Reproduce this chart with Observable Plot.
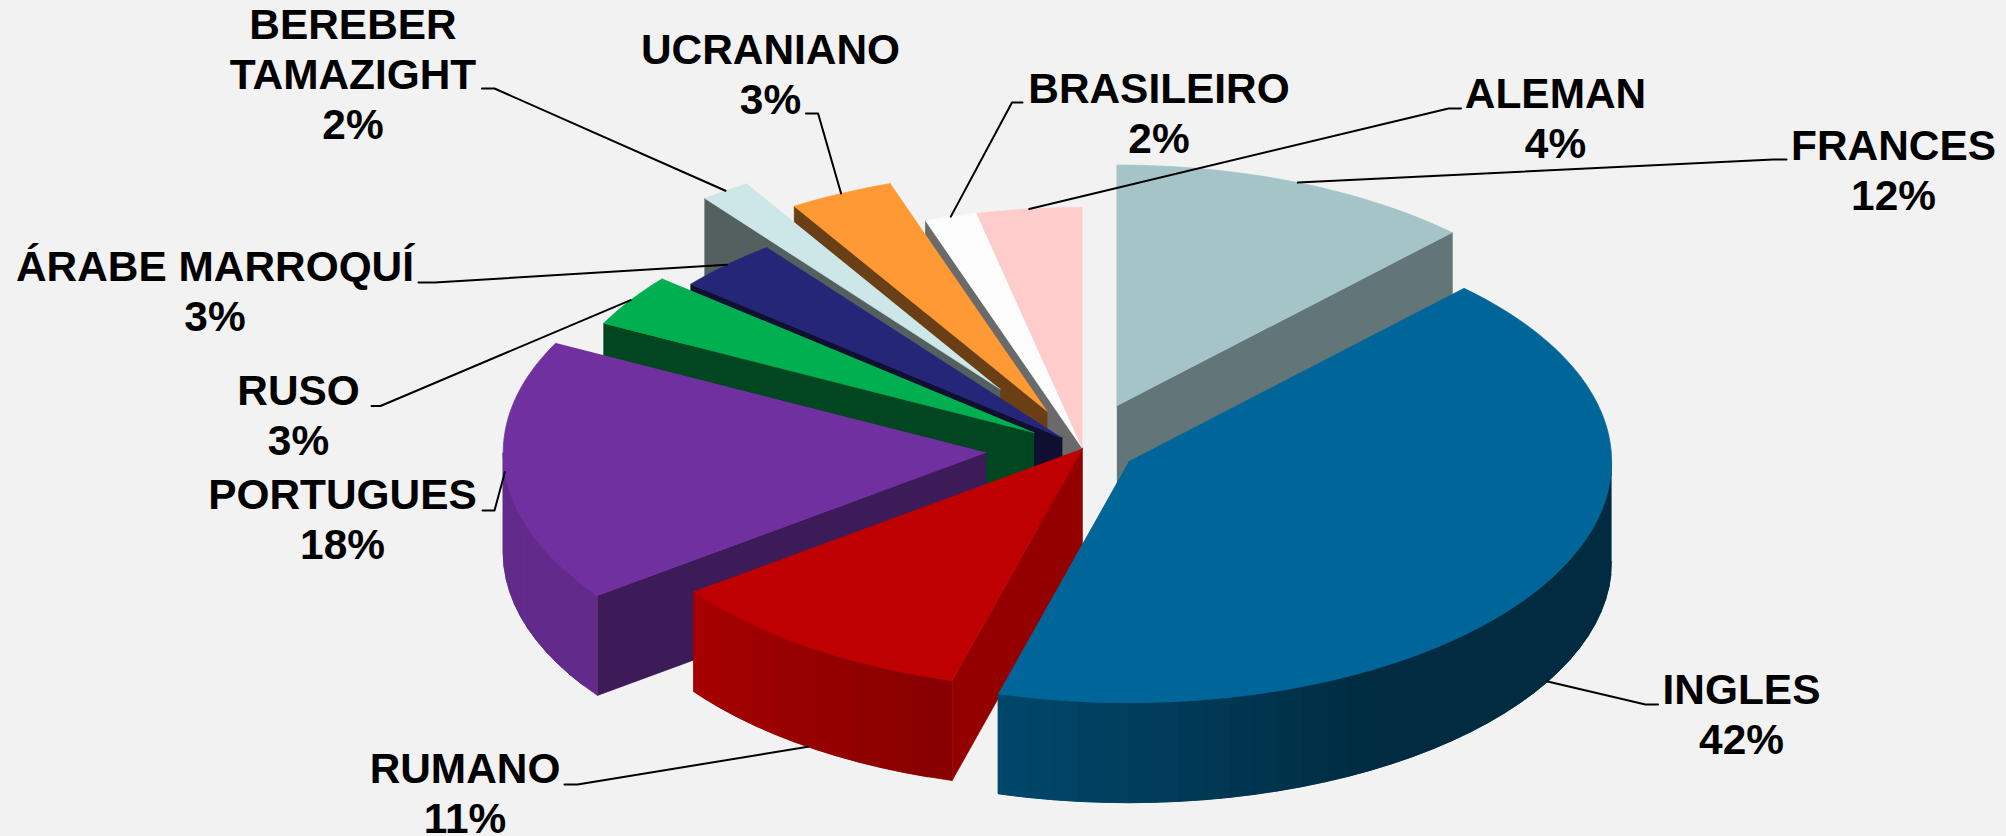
<!DOCTYPE html>
<html><head><meta charset="utf-8">
<script src="https://cdn.jsdelivr.net/npm/d3@7"></script>
<script src="https://cdn.jsdelivr.net/npm/@observablehq/plot@0.6"></script>
<style>html,body{margin:0;padding:0;background:#f2f2f2;overflow:hidden}svg{display:block}</style>
</head><body><div id="chart"></div>
<script>
// Data
const languages = ["FRANCES","INGLES","RUMANO","PORTUGUES","RUSO","ÁRABE MARROQUÍ","BEREBER\nTAMAZIGHT","UCRANIANO","BRASILEIRO","ALEMAN"];
const shares    = [12.22,42.13,10.54,17.61,3.53,3.5,1.69,3.51,1.75,3.52];
const percentLabels = ["12%","42%","11%","18%","3%","3%","2%","3%","2%","4%"];
const explosion = [0.19,0.11,0,0.2,0.12,0.06,0.3,0.17,0,0];
// Style
const topColors = ["#a5c4c7","#006699","#bf0000","#7030a0","#00b050","#262678","#cde6e8","#ff9933","#fcfcfc","#ffcccc"];
// Layout
const labelX     = [1893,1741,464.5,342,298,214.5,352.5,770,1158.5,1555];
const labelY     = [209,753,832.5,558,454,330,138,113,152,157];
const leaderX0   = [1786,1657.5,564,482,371,418,481.5,805.5,1022,1460.5];
const leaderX1   = [1773,1645,577,494,380,434,494,817.6,1011.5,1448];
const leaderY    = [159,704,784,510,405.5,282,88,113,102,108];
const drawOrder  = [9,8,7,6,5,4,3,2,0,1];
const cx = 1082, cy = 448, rx = 483, ry = 241, depth = 100;

const rad = d => d * Math.PI / 180;
let acc = 0;
const slices = languages.map((name, i) => {
  const a0 = acc * 3.6; acc += shares[i]; const a1 = acc * 3.6;
  const mid = (a0 + a1) / 2;
  const ax = cx + explosion[i] * rx * Math.sin(rad(mid));
  const ay = cy - explosion[i] * ry * Math.cos(rad(mid));
  return {i, name, a0, a1, mid, ax, ay};
});
const rim = (s, a) => [s.ax + rx * Math.sin(rad(a)), s.ay - ry * Math.cos(rad(a))];
const shadeOuter = d3.scaleLinear().domain([150,195,233,360]).range([0.42,0.70,0.87,0.87]).clamp(true);
const shadeSide  = d3.scaleLinear().domain([44,195,233,297,360]).range([0.6,0.78,0.55,0.4,0.43]).clamp(true);
const tint = (c, k) => { const r = d3.rgb(c); return d3.rgb(r.r*k, r.g*k, r.b*k).formatHex(); };

const polys = [];
let pid = 0;
const addPoly = (pts, fill) => { const id = pid++; pts.forEach(([x,y]) => polys.push({id, x, y, fill})); };
for (const idx of drawOrder) {
  const s = slices[idx], col = topColors[idx];
  const radial = a => {
    const [x,y] = rim(s,a);
    addPoly([[s.ax,s.ay],[x,y],[x,y+depth],[s.ax,s.ay+depth]], tint(col, shadeSide(a)));
  };
  if (Math.sin(rad(s.a1)) > 0) radial(s.a1);
  if (Math.sin(rad(s.a0)) < 0) radial(s.a0);
  // outer wall: strips overlap the next one so that no seams show
  const lo = Math.max(s.a0, 90), hi = Math.min(s.a1, 270);
  const step = 3;
  for (let a = lo; a < hi; a += step) {
    const b = Math.min(a + step, hi), e = Math.min(a + 2 * step, hi);
    const arc = [a, (a+e)/2, e].map(t => rim(s,t));
    addPoly([...arc, ...arc.slice().reverse().map(([x,y]) => [x,y+depth])], tint(col, shadeOuter((a+b)/2)));
  }
  // top face
  const pts = [[s.ax,s.ay]];
  const n = Math.ceil(s.a1 - s.a0);
  for (let k = 0; k <= n; k++) pts.push(rim(s, s.a0 + (s.a1 - s.a0) * k / n));
  addPoly(pts, col);
}

const leaders = slices.flatMap((s, i) => {
  let [x,y] = rim(s, s.mid);
  if (Math.cos(rad(s.mid)) < -0.3) y += depth;
  return [{i, x:leaderX0[i], y:leaderY[i]},{i, x:leaderX1[i], y:leaderY[i]},{i, x, y}];
});

const labels = slices.map((s, i) => ({
  text: `${s.name}\n${percentLabels[i]}`, x: labelX[i], y: labelY[i]
}));

const plot = Plot.plot({
  width: 2006, height: 836, margin: 0,
  style: {background: "transparent"},
  x: {domain: [0,2006], range: [0,2006], axis: null},
  y: {domain: [0,836], range: [0,836], axis: null},
  color: {type: "identity"},
  marks: [
    Plot.line(polys, {x:"x", y:"y", z:"id", fill:"fill", stroke:"fill", strokeWidth:0.7, curve:"linear"}),
    Plot.line(leaders, {x:"x", y:"y", z:"i", stroke:"#000", strokeWidth:2, curve:"linear"}),
    Plot.text(labels, {x:"x", y:"y", text:"text", lineAnchor:"bottom", textAnchor:"middle",
      fontFamily:"Liberation Sans, Arial, sans-serif", fontWeight:"bold", fontSize:42.4, lineHeight:1.175, fill:"#000"})
  ]
});
document.getElementById("chart").appendChild(plot);
</script>
</body></html>
